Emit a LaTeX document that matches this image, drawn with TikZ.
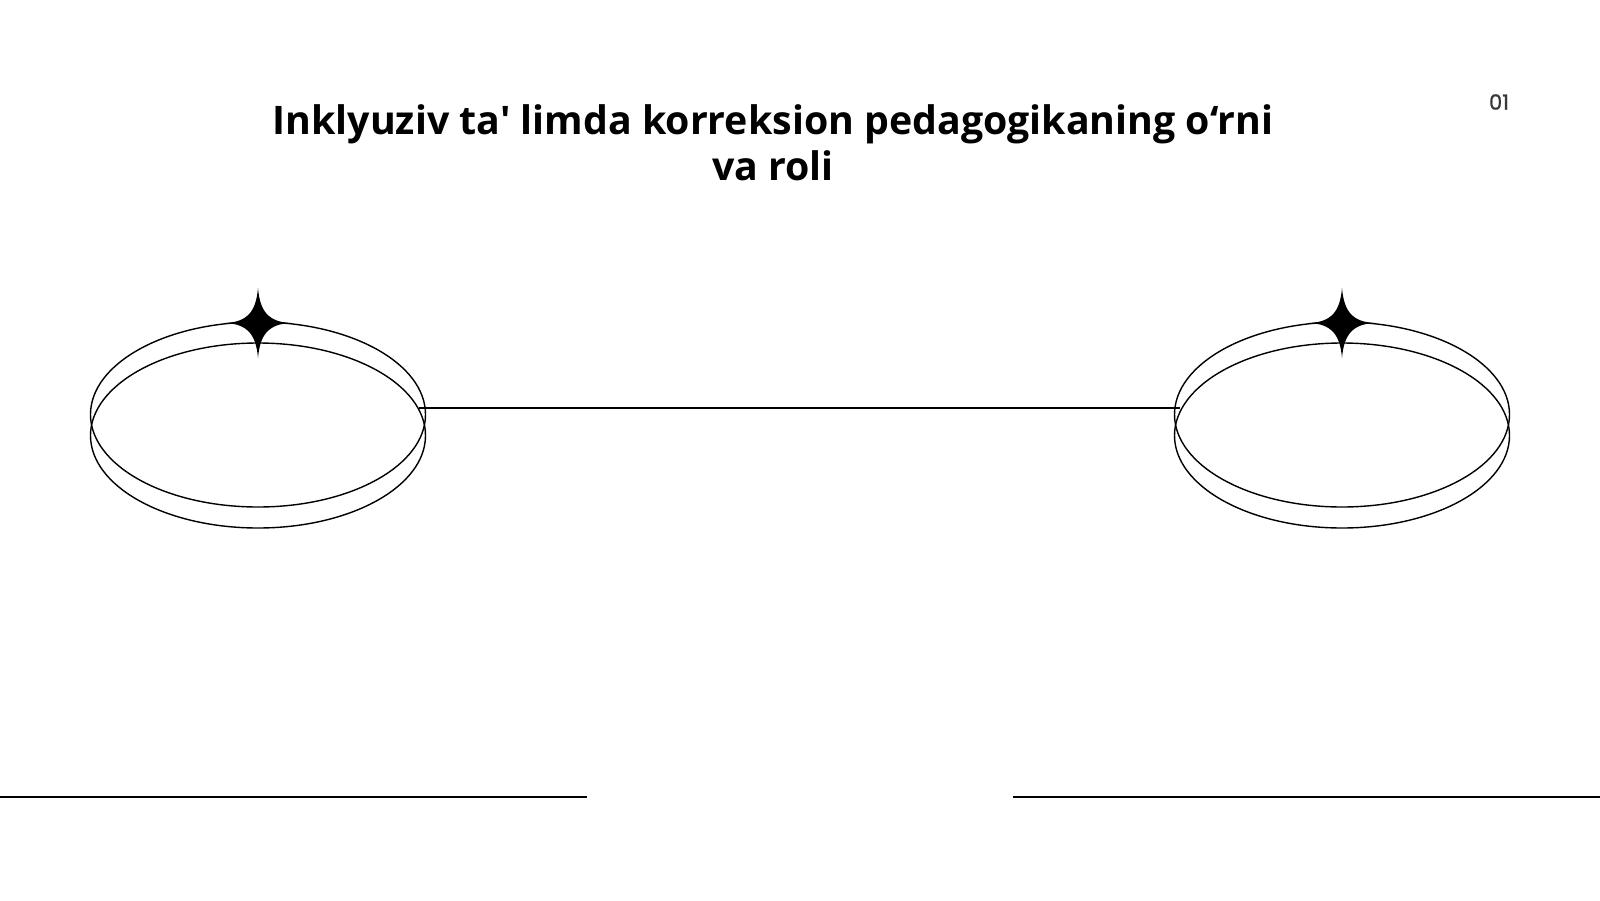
\documentclass[tikz,border=0pt]{standalone}
\usepackage{fontspec}
\newfontfamily\titlefont{Open Sans}
\newfontfamily\numfont{Poppins}[FakeBold=0.9]
\usetikzlibrary{shapes.geometric}
\begin{document}
\begin{tikzpicture}[x=1pt,y=-1pt,
  ring/.style={ellipse, draw=black, line width=1.4pt, minimum width=335pt, minimum height=185pt, inner sep=0pt},
  rule/.style={draw=black, line width=1.4pt},
  sparkle/.style={fill=black, draw=none},
  titletext/.style={font=\titlefont\bfseries\fontsize{39.3}{46}\selectfont, align=center, text=black},
  pagenum/.style={font=\numfont\fontsize{21}{21}\selectfont, text=black!78}]
\useasboundingbox (0,0) rectangle (1600,900);
\fill[white] (0,0) rectangle (1600,900);

\node[titletext] (title) at (773,143) {Inklyuziv ta' limda korreksion pedagogikaning o‘rni\\va roli};
\node[pagenum] (num) at (1499,102) {01};

% left ellipse pair
\node[ring] (L1) at (258,414.5) {};
\node[ring] (L2) at (258,435.5) {};
% right ellipse pair
\node[ring] (R1) at (1342,414.5) {};
\node[ring] (R2) at (1342,435.5) {};

% sparkles
\foreach \cx/\nm in {258/SL, 1342/SR}{
  \coordinate (\nm) at (\cx,323);
  \fill[sparkle] (\cx,288) .. controls (\cx+2,311) and (\cx+10,322) .. (\cx+33,323)
     .. controls (\cx+10,324) and (\cx+2,335) .. (\cx,358)
     .. controls (\cx-2,335) and (\cx-10,324) .. (\cx-33,323)
     .. controls (\cx-10,322) and (\cx-2,311) .. (\cx,288) -- cycle;
}

% connector
\coordinate (ca) at (419,408);
\coordinate (cb) at (1180,408);
\draw[rule] (ca) -- (cb);

% bottom rules
\coordinate (bl1) at (0,797);
\coordinate (bl2) at (587,797);
\coordinate (br1) at (1013,797);
\coordinate (br2) at (1600,797);
\draw[rule] (bl1) -- (bl2);
\draw[rule] (br1) -- (br2);
\end{tikzpicture}
\end{document}
